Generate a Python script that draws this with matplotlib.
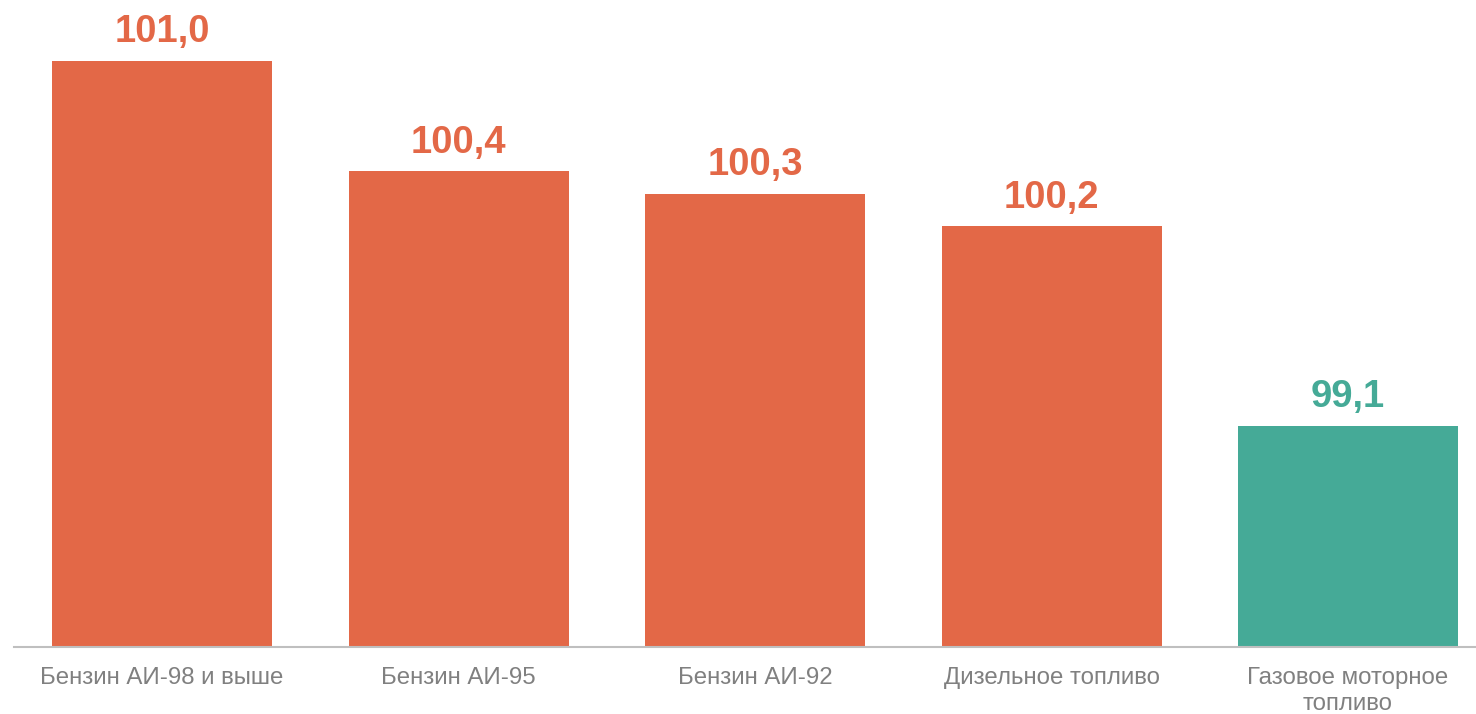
import numpy as np
import matplotlib.pyplot as plt

plt.rcParams['font.family'] = ['Liberation Sans', 'DejaVu Sans']

# Data (bar heights; labels are the rounded figures shown)
categories = ["Бензин АИ-98 и выше", "Бензин АИ-95", "Бензин АИ-92",
              "Дизельное топливо", "Газовое моторное\nтопливо"]
values = [101.04, 100.46, 100.34, 100.17, 99.12]
value_labels = ["101,0", "100,4", "100,3", "100,2", "99,1"]

orange = "#E36847"
green = "#45AA97"
colors = [orange, orange, orange, orange, green]

W, H = 1476, 714
fig = plt.figure(figsize=(W / 100, H / 100), dpi=100)

# axes: baseline at y=646.5 px, 296.5 px per category
base_px = 646.5
step = 296.5
left_px = 52 + 110 - step / 2
ax = fig.add_axes([left_px / W, (H - base_px) / H, step * 5 / W, base_px / H])

y0 = 97.958
px_per_unit = 190.0
ax.set_ylim(y0, y0 + base_px / px_per_unit)
ax.set_xlim(-0.5, 4.5)

x = np.arange(len(categories))
ax.bar(x, np.array(values) - y0, bottom=y0, width=220 / step,
       color=colors, zorder=2)

for xi, v, lab, c in zip(x, values, value_labels, colors):
    ax.annotate(lab, (xi, v), xytext=(0, 18.5 * 0.72), textcoords="offset points",
                ha="center", va="baseline", fontsize=27.5, fontweight="bold",
                color=c)

ax.set_xticks(x)
ax.set_xticklabels(categories, fontsize=17.3, color="#808080", linespacing=1.2)
ax.tick_params(axis="x", length=0, pad=15)
ax.set_yticks([])

for s in ["top", "right", "left"]:
    ax.spines[s].set_visible(False)
ax.spines["bottom"].set_color("#BFBFBF")
ax.spines["bottom"].set_linewidth(1.5)

fig.savefig("out.png", dpi=100)
